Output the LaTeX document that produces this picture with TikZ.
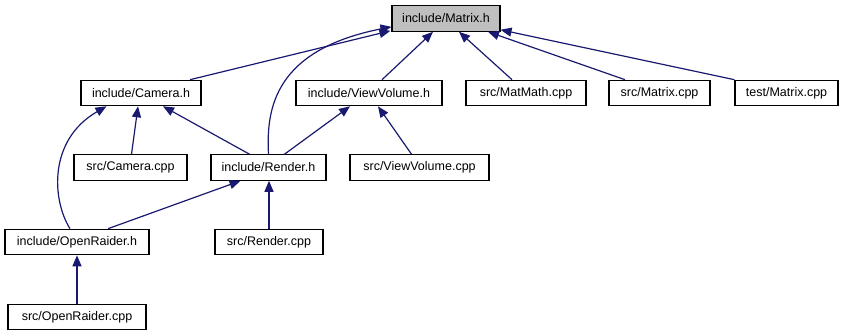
\documentclass[tikz,border=0pt]{standalone}
\usepackage{fontspec}
\setmainfont{Liberation Sans}
\usetikzlibrary{arrows.meta}
\definecolor{edgeblue}{HTML}{191970}
\definecolor{focusgray}{HTML}{BFBFBF}
\tikzset{
  filebox/.style={draw=black, line width=1.1pt, fill=white, inner sep=0pt,
    minimum height=25.5pt, font=\fontsize{12.5}{14}\selectfont},
  focusbox/.style={filebox, fill=focusgray},
  dep/.style={draw=edgeblue, line width=1.2pt,
    -{Triangle[length=11pt,width=9pt]}},
}
\begin{document}
\begin{tikzpicture}[x=1pt,y=-1pt]
\useasboundingbox (0,0) rectangle (845,336);

% files
\node[focusbox, minimum width=108pt] (matrix)   at (446,18.5) {include/Matrix.h};
\node[filebox, minimum width=120pt] (camera)    at (141,93)   {include/Camera.h};
\node[filebox, minimum width=146pt] (viewvol)   at (369,93)   {include/ViewVolume.h};
\node[filebox, minimum width=120pt] (matmath)   at (526,93)   {src/MatMath.cpp};
\node[filebox, minimum width=101pt] (srcmatrix) at (659.5,93) {src/Matrix.cpp};
\node[filebox, minimum width=103pt] (testmatrix) at (786.5,93) {test/Matrix.cpp};
\node[filebox, minimum width=113pt] (cameracpp) at (130.5,167.5) {src/Camera.cpp};
\node[filebox, minimum width=115pt] (render)    at (268.5,167.5) {include/Render.h};
\node[filebox, minimum width=139pt] (viewvolcpp) at (419.5,167.5) {src/ViewVolume.cpp};
\node[filebox, minimum width=144pt] (openraider) at (77,242)  {include/OpenRaider.h};
\node[filebox, minimum width=108pt] (rendercpp) at (269,242)  {src/Render.cpp};
\node[filebox, minimum width=138pt] (openraidercpp) at (77,317) {src/OpenRaider.cpp};

% dependencies on include/Matrix.h (canvas y points up: yshift>0 moves a point up)
\draw[dep] ([xshift=49pt]camera.north) -- ([xshift=-1pt,yshift=1pt]matrix.south west);
\draw[dep] (render.north) .. controls (266,108) and (275,50) .. ([yshift=5pt]matrix.south west);
\draw[dep] ([xshift=13pt]viewvol.north) -- ([xshift=-13pt]matrix.south);
\draw[dep] ([xshift=-14pt]matmath.north) -- ([xshift=13pt]matrix.south);
\draw[dep] ([xshift=-34.5pt]srcmatrix.north) -- ([xshift=42pt]matrix.south);
\draw[dep] (testmatrix.north west) -- ([yshift=2pt]matrix.south east);

% dependencies on include/Camera.h
\draw[dep] ([xshift=1pt]cameracpp.north) -- ([xshift=-3pt]camera.south);
\draw[dep] ([xshift=-19pt]render.north) -- ([xshift=22pt]camera.south);
\draw[dep] ([xshift=-7pt]openraider.north) .. controls (52,200) and (48,140) .. ([xshift=26pt]camera.south west);

% dependencies on include/ViewVolume.h
\draw[dep] ([xshift=16pt]render.north) -- ([xshift=-19pt]viewvol.south);
\draw[dep] ([xshift=-8pt]viewvolcpp.north) -- ([xshift=9pt]viewvol.south);

% dependencies on include/Render.h
\draw[dep] ([xshift=31pt]openraider.north) -- ([xshift=-28pt]render.south);
\draw[dep] (rendercpp.north) -- (rendercpp.north |- render.south);

% dependency on include/OpenRaider.h
\draw[dep] (openraidercpp.north) -- (openraider.south);
\end{tikzpicture}
\end{document}
